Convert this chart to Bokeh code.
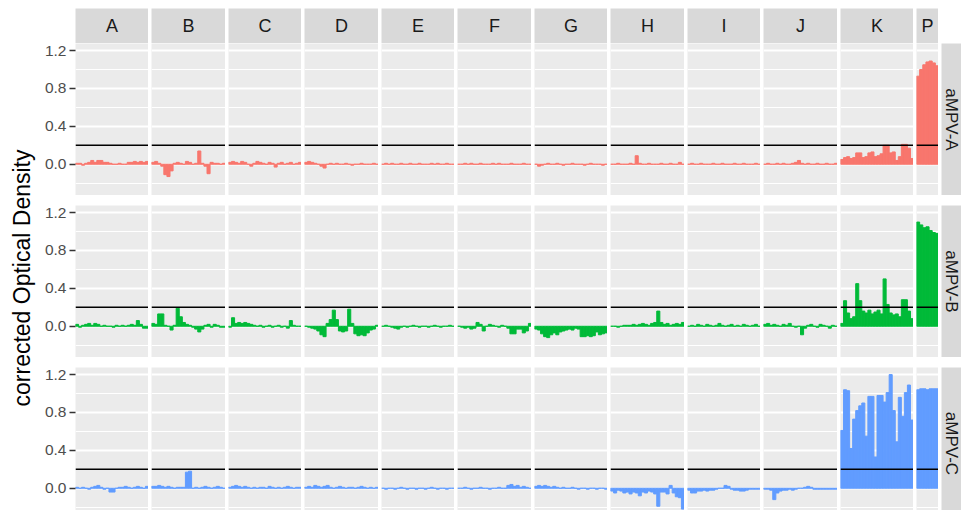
import math
from bokeh.plotting import figure
from bokeh.models import Range1d, FixedTicker, PrintfTickFormatter, Span, Spacer, Row, Column, Grid, LinearAxis
from bokeh.embed import file_html
from bokeh.resources import INLINE
from bokeh.core.properties import value

# ---------------- data ----------------
columns = ["A", "B", "C", "D", "E", "F", "G", "H", "I", "J", "K", "P"]
row_labels = ["aMPV-A", "aMPV-B", "aMPV-C"]
colors = ["#F8766D", "#00BA38", "#619CFF"]
threshold = 0.2
y_major = [0.0, 0.4, 0.8, 1.2]
y_minor = [-0.2, 0.2, 0.6, 1.0]
y_axis_title = "corrected Optical Density"

# aMPV-A
a_A = [0.01, 0.01, -0.01, 0.01, 0.02, 0.04, 0.02, 0.04, 0.04, 0.02, 0.02, 0.01, 0.00, 0.00, 0.01, 0.00, 0.00, 0.02, 0.02, 0.03, 0.02, 0.03, 0.02, 0.03]
a_B = [0.02, 0.03, 0.01, -0.02, -0.11, -0.13, -0.07, 0.01, 0.02, 0.01, 0.00, 0.03, 0.02, 0.00, 0.01, 0.14, 0.01, -0.02, -0.10, 0.02, 0.01, 0.01, 0.00, 0.01]
a_C = [0.02, 0.03, 0.02, 0.01, 0.03, 0.02, 0.00, -0.02, 0.01, 0.03, 0.02, 0.01, 0.00, 0.02, 0.01, -0.03, 0.01, 0.02, 0.00, 0.01, 0.02, 0.00, 0.01, 0.02]
a_D = [0.02, 0.03, 0.02, 0.01, 0.00, -0.02, -0.04, 0.00, 0.01, 0.00, 0.01, 0.00, 0.00, 0.01, 0.00, -0.01, 0.00, 0.00, 0.01, 0.00, 0.00, 0.00, 0.01, 0.00]
a_E = [0.00, 0.01, 0.00, 0.01, 0.00, 0.00, 0.01, 0.00, 0.00, 0.01, 0.00, 0.00, 0.01, 0.00, 0.00, 0.00, 0.01, 0.00, 0.01, 0.00, 0.00, 0.01, 0.00, 0.00]
a_F = [0.00, 0.00, 0.01, 0.00, 0.01, 0.00, 0.00, 0.01, 0.00, 0.00, 0.00, 0.01, 0.00, 0.01, 0.00, 0.00, 0.00, 0.01, 0.00, 0.00, 0.00, 0.01, 0.00, 0.00]
a_G = [0.00, -0.02, -0.01, 0.00, 0.01, 0.00, 0.00, 0.01, 0.00, -0.01, 0.00, 0.00, 0.01, 0.00, 0.00, 0.00, -0.01, 0.00, 0.01, 0.00, 0.00, 0.00, -0.01, 0.00]
a_H = [0.00, 0.00, 0.01, 0.00, 0.00, 0.00, 0.01, 0.00, 0.09, 0.01, 0.00, 0.00, 0.01, 0.00, 0.00, 0.00, 0.01, 0.00, 0.00, 0.01, 0.00, 0.00, 0.02, 0.00]
a_I = [0.00, 0.01, 0.00, 0.00, 0.01, 0.00, 0.00, 0.00, 0.01, 0.00, 0.00, 0.01, 0.00, 0.00, 0.00, 0.01, 0.00, 0.00, 0.01, 0.00, 0.00, 0.00, 0.01, 0.00]
a_J = [0.00, 0.01, 0.00, 0.00, 0.01, 0.00, 0.01, 0.00, 0.00, 0.01, 0.02, 0.04, 0.01, 0.00, 0.01, 0.00, 0.00, 0.01, 0.00, 0.00, 0.01, 0.00, 0.00, 0.01]
a_K = [0.05, 0.07, 0.08, 0.06, 0.07, 0.12, 0.12, 0.07, 0.08, 0.12, 0.13, 0.08, 0.09, 0.11, 0.20, 0.20, 0.12, 0.13, 0.04, 0.08, 0.21, 0.21, 0.17, 0.06]
a_P = [0.93, 1.00, 1.05, 1.08, 1.09, 1.07, 1.04]

# aMPV-B
b_A = [0.02, -0.01, 0.01, 0.02, 0.03, 0.01, 0.03, 0.02, 0.00, 0.01, 0.00, 0.00, -0.01, 0.01, 0.00, 0.01, 0.00, 0.01, 0.02, 0.01, 0.06, 0.02, -0.02, -0.02]
b_B = [0.03, 0.02, 0.13, 0.13, 0.01, 0.00, -0.04, 0.01, 0.19, 0.10, 0.04, 0.02, 0.01, -0.01, -0.03, -0.06, -0.03, 0.01, 0.02, -0.01, 0.02, 0.01, -0.01, -0.01]
b_C = [-0.01, 0.09, 0.03, 0.04, 0.03, 0.04, 0.03, 0.02, 0.01, 0.00, 0.01, -0.01, 0.00, 0.01, -0.01, 0.00, 0.01, -0.01, 0.00, -0.02, 0.06, 0.01, 0.00, 0.00]
b_D = [0.00, -0.01, -0.02, -0.03, -0.05, -0.09, -0.11, 0.03, 0.07, 0.17, 0.07, -0.05, -0.06, -0.05, 0.18, 0.03, -0.08, -0.10, -0.09, -0.10, -0.07, -0.04, -0.03, 0.01]
b_E = [0.00, 0.01, 0.00, -0.01, -0.02, -0.03, -0.01, 0.00, -0.01, 0.00, 0.01, 0.00, -0.01, 0.00, 0.00, -0.01, 0.00, 0.01, 0.00, -0.01, 0.00, 0.00, 0.01, 0.00]
b_F = [0.00, -0.01, -0.02, -0.01, -0.03, -0.02, 0.04, 0.02, -0.05, 0.00, 0.02, 0.01, 0.00, -0.01, 0.01, 0.00, -0.02, -0.08, -0.08, -0.03, -0.03, -0.07, -0.05, 0.03]
b_G = [-0.03, -0.04, -0.08, -0.11, -0.12, -0.09, -0.07, -0.09, -0.06, -0.05, -0.04, -0.03, -0.04, -0.02, -0.03, -0.11, -0.11, -0.10, -0.11, -0.10, -0.06, -0.09, -0.08, -0.07]
b_H = [0.00, 0.00, -0.01, 0.00, 0.01, 0.01, 0.01, 0.02, 0.01, 0.02, 0.03, 0.02, 0.01, 0.03, 0.04, 0.16, 0.04, 0.02, 0.03, 0.01, 0.02, 0.03, 0.02, 0.04]
b_I = [0.00, 0.01, 0.00, 0.02, 0.01, 0.00, 0.02, 0.01, 0.00, 0.01, 0.03, 0.01, 0.00, 0.01, 0.02, 0.00, 0.01, 0.00, 0.02, 0.01, 0.00, 0.01, 0.02, 0.00]
b_J = [0.02, 0.03, 0.01, 0.02, 0.01, 0.00, 0.02, 0.01, 0.03, 0.00, -0.01, 0.00, -0.09, -0.02, 0.01, 0.02, 0.00, -0.01, 0.02, 0.01, 0.00, -0.02, 0.01, 0.00]
b_K = [0.03, 0.27, 0.14, 0.08, 0.10, 0.45, 0.27, 0.16, 0.14, 0.17, 0.13, 0.15, 0.17, 0.13, 0.50, 0.23, 0.14, 0.12, 0.13, 0.10, 0.28, 0.28, 0.16, 0.08]
b_P = [1.10, 1.07, 1.04, 1.05, 1.01, 0.99, 0.98]

# aMPV-C
c_A = [0.01, 0.00, 0.01, 0.00, -0.01, 0.01, 0.02, 0.03, 0.01, -0.01, 0.00, -0.04, -0.04, 0.00, 0.01, 0.01, 0.02, 0.01, 0.00, 0.01, 0.02, 0.01, 0.00, 0.02]
c_B = [0.02, 0.02, 0.03, 0.02, 0.01, 0.02, 0.01, 0.00, 0.01, 0.01, 0.01, 0.17, 0.18, 0.00, 0.01, 0.00, 0.01, 0.02, 0.01, 0.00, 0.01, 0.02, 0.01, 0.00]
c_C = [0.01, 0.02, 0.03, 0.02, 0.01, 0.02, 0.01, 0.00, 0.01, 0.00, 0.01, 0.01, 0.00, 0.02, 0.01, 0.00, 0.01, 0.00, 0.01, 0.02, 0.01, 0.00, 0.01, 0.01]
c_D = [0.01, 0.02, 0.01, 0.03, 0.02, 0.01, 0.02, 0.03, 0.01, 0.00, 0.01, 0.02, 0.01, 0.00, 0.01, 0.01, 0.00, 0.01, 0.02, 0.01, 0.00, 0.01, 0.00, 0.01]
c_E = [0.00, -0.01, 0.00, 0.00, -0.01, 0.00, 0.01, 0.00, -0.01, 0.00, 0.00, -0.01, 0.00, 0.00, -0.01, 0.00, 0.01, 0.00, -0.01, 0.00, 0.00, -0.01, 0.00, 0.00]
c_F = [0.00, 0.00, 0.01, 0.00, -0.01, 0.00, 0.00, 0.01, 0.00, 0.00, -0.01, 0.00, 0.00, 0.01, 0.00, 0.00, 0.03, 0.04, 0.02, 0.03, 0.01, 0.02, 0.01, 0.00]
c_G = [0.02, 0.03, 0.02, 0.03, 0.02, 0.01, 0.02, 0.01, 0.00, 0.01, 0.00, 0.00, 0.01, 0.00, -0.01, 0.00, 0.00, -0.01, 0.00, 0.00, -0.01, 0.00, 0.00, -0.01]
c_H = [-0.03, -0.05, -0.02, -0.03, -0.05, -0.04, -0.06, -0.04, -0.05, -0.08, -0.04, -0.05, -0.03, -0.04, -0.06, -0.19, -0.04, -0.04, -0.06, 0.03, -0.05, -0.09, -0.10, -0.22]
c_I = [-0.02, -0.05, -0.05, -0.03, -0.03, -0.02, -0.03, -0.02, -0.02, -0.01, 0.00, 0.00, 0.03, 0.02, -0.01, -0.02, -0.02, -0.03, -0.03, -0.02, -0.01, -0.01, -0.01, -0.01]
c_J = [-0.01, -0.01, -0.02, -0.12, -0.05, -0.03, -0.02, -0.02, -0.01, -0.02, -0.01, 0.00, 0.00, 0.01, 0.02, 0.01, -0.01, -0.01, -0.01, -0.01, -0.01, -0.01, -0.01, -0.01]
c_K = [0.61, 1.04, 1.03, 0.42, 0.73, 0.82, 0.87, 0.90, 0.55, 0.97, 0.97, 0.33, 0.98, 0.98, 0.91, 1.01, 1.20, 0.82, 0.49, 0.96, 0.76, 1.01, 1.09, 0.72]
c_P = [1.04, 1.05, 1.05, 1.04, 1.05, 1.05, 1.05]

series = {
    "aMPV-A": [a_A, a_B, a_C, a_D, a_E, a_F, a_G, a_H, a_I, a_J, a_K, a_P],
    "aMPV-B": [b_A, b_B, b_C, b_D, b_E, b_F, b_G, b_H, b_I, b_J, b_K, b_P],
    "aMPV-C": [c_A, c_B, c_C, c_D, c_E, c_F, c_G, c_H, c_I, c_J, c_K, c_P],
}

# ---------------- layout constants ----------------
FONT = "Liberation Sans"
panel_w = [73, 74, 73, 74, 73, 74, 73, 74, 73, 74, 73, 22]
AX = 37          # room for y-axis in first column
GAP = 3
TOP_PAD = 8
STRIP_H = 35
STRIP_W = 20
PANEL_H = 152
LAST_H = 143
ROW_GAP = 10
LABEL_W = 38
Y_HI = 1.275
Y_LO = -0.33
px_per_unit = PANEL_H / (Y_HI - Y_LO)
TOTAL_H = STRIP_H + 2 * PANEL_H + 2 * ROW_GAP + LAST_H


def base_fig(w, h, xr, yr, bg):
    p = figure(width=w, height=h, x_range=xr, y_range=yr,
               x_axis_type=None, y_axis_type=None, title=None,
               output_backend="svg", toolbar_location=None,
               background_fill_color=bg, border_fill_color="white",
               outline_line_color=None, min_border=0)
    return p


def top_strip(label, w, first):
    p = base_fig(w + (AX if first else 0), STRIP_H, Range1d(0, 1), Range1d(0, 1), "#D9D9D9")
    if first:
        p.min_border_left = AX
    p.text(x=[0.5], y=[0.5], text=[label], text_align="center", text_baseline="middle",
           text_font=value(FONT), text_font_size="18px", text_color="#1A1A1A")
    return p


def right_strip(label, h):
    p = base_fig(STRIP_W, h, Range1d(0, STRIP_W), Range1d(0, 1), "#D9D9D9")
    yc = 1 - (PANEL_H / 2) / h
    p.text(x=[STRIP_W / 2], y=[yc], text=[label], text_align="center", text_baseline="middle",
           angle=-math.pi / 2, text_font=value(FONT), text_font_size="17px", text_color="#1A1A1A")
    return p


def panel(vals, color, w, h, first):
    n = len(vals)
    y_lo = Y_HI - h / px_per_unit
    p = base_fig(w + (AX if first else 0), h, Range1d(0.5, n + 0.5), Range1d(y_lo, Y_HI), "#EBEBEB")
    grid = Grid(dimension=1, ticker=FixedTicker(ticks=y_major, minor_ticks=y_minor),
                grid_line_color="white", grid_line_width=2,
                minor_grid_line_color="white", minor_grid_line_width=1)
    p.add_layout(grid)
    if first:
        p.min_border_left = AX
        ax = LinearAxis(ticker=FixedTicker(ticks=y_major),
                        formatter=PrintfTickFormatter(format="%.1f"))
        ax.axis_line_color = None
        ax.major_tick_out = 6
        ax.major_tick_in = 0
        ax.major_tick_line_color = "#333333"
        ax.major_tick_line_width = 1.5
        ax.minor_tick_line_color = None
        ax.major_label_standoff = 3
        ax.major_label_text_font = FONT
        ax.major_label_text_font_size = "15.5px"
        ax.major_label_text_color = "#4D4D4D"
        p.add_layout(ax, "left")
    xs = list(range(1, n + 1))
    p.vbar(x=xs, top=vals, bottom=0, width=1, fill_color=color, line_color=color, line_width=1)
    p.add_layout(Span(location=threshold, dimension="width", line_color="black", line_width=1.5))
    return p


# strips on top
strip_children = [top_strip(c, panel_w[i], i == 0) for i, c in enumerate(columns)]
strip_children.append(Spacer(width=STRIP_W, height=STRIP_H))
main_children = [Row(children=strip_children, spacing=GAP)]

for r, lab in enumerate(row_labels):
    h = LAST_H if r == len(row_labels) - 1 else PANEL_H
    kids = [panel(series[lab][i], colors[r], panel_w[i], h, i == 0) for i in range(len(columns))]
    kids.append(right_strip(lab, h))
    if r > 0:
        main_children.append(Spacer(width=10, height=ROW_GAP))
    main_children.append(Row(children=kids, spacing=GAP))

main = Column(children=main_children, spacing=0)

# y-axis title
lab_fig = base_fig(LABEL_W, TOTAL_H, Range1d(0, LABEL_W), Range1d(0, TOTAL_H), "white")
lab_fig.text(x=[21], y=[TOTAL_H - 269.5], text=[y_axis_title], angle=math.pi / 2,
             text_align="center", text_baseline="middle",
             text_font=value(FONT), text_font_size="23px", text_color="black")

body = Row(children=[lab_fig, main], spacing=0)
layout = Column(children=[Spacer(width=10, height=TOP_PAD), body], spacing=0)

open("out.html", "w").write(file_html(layout, INLINE))
